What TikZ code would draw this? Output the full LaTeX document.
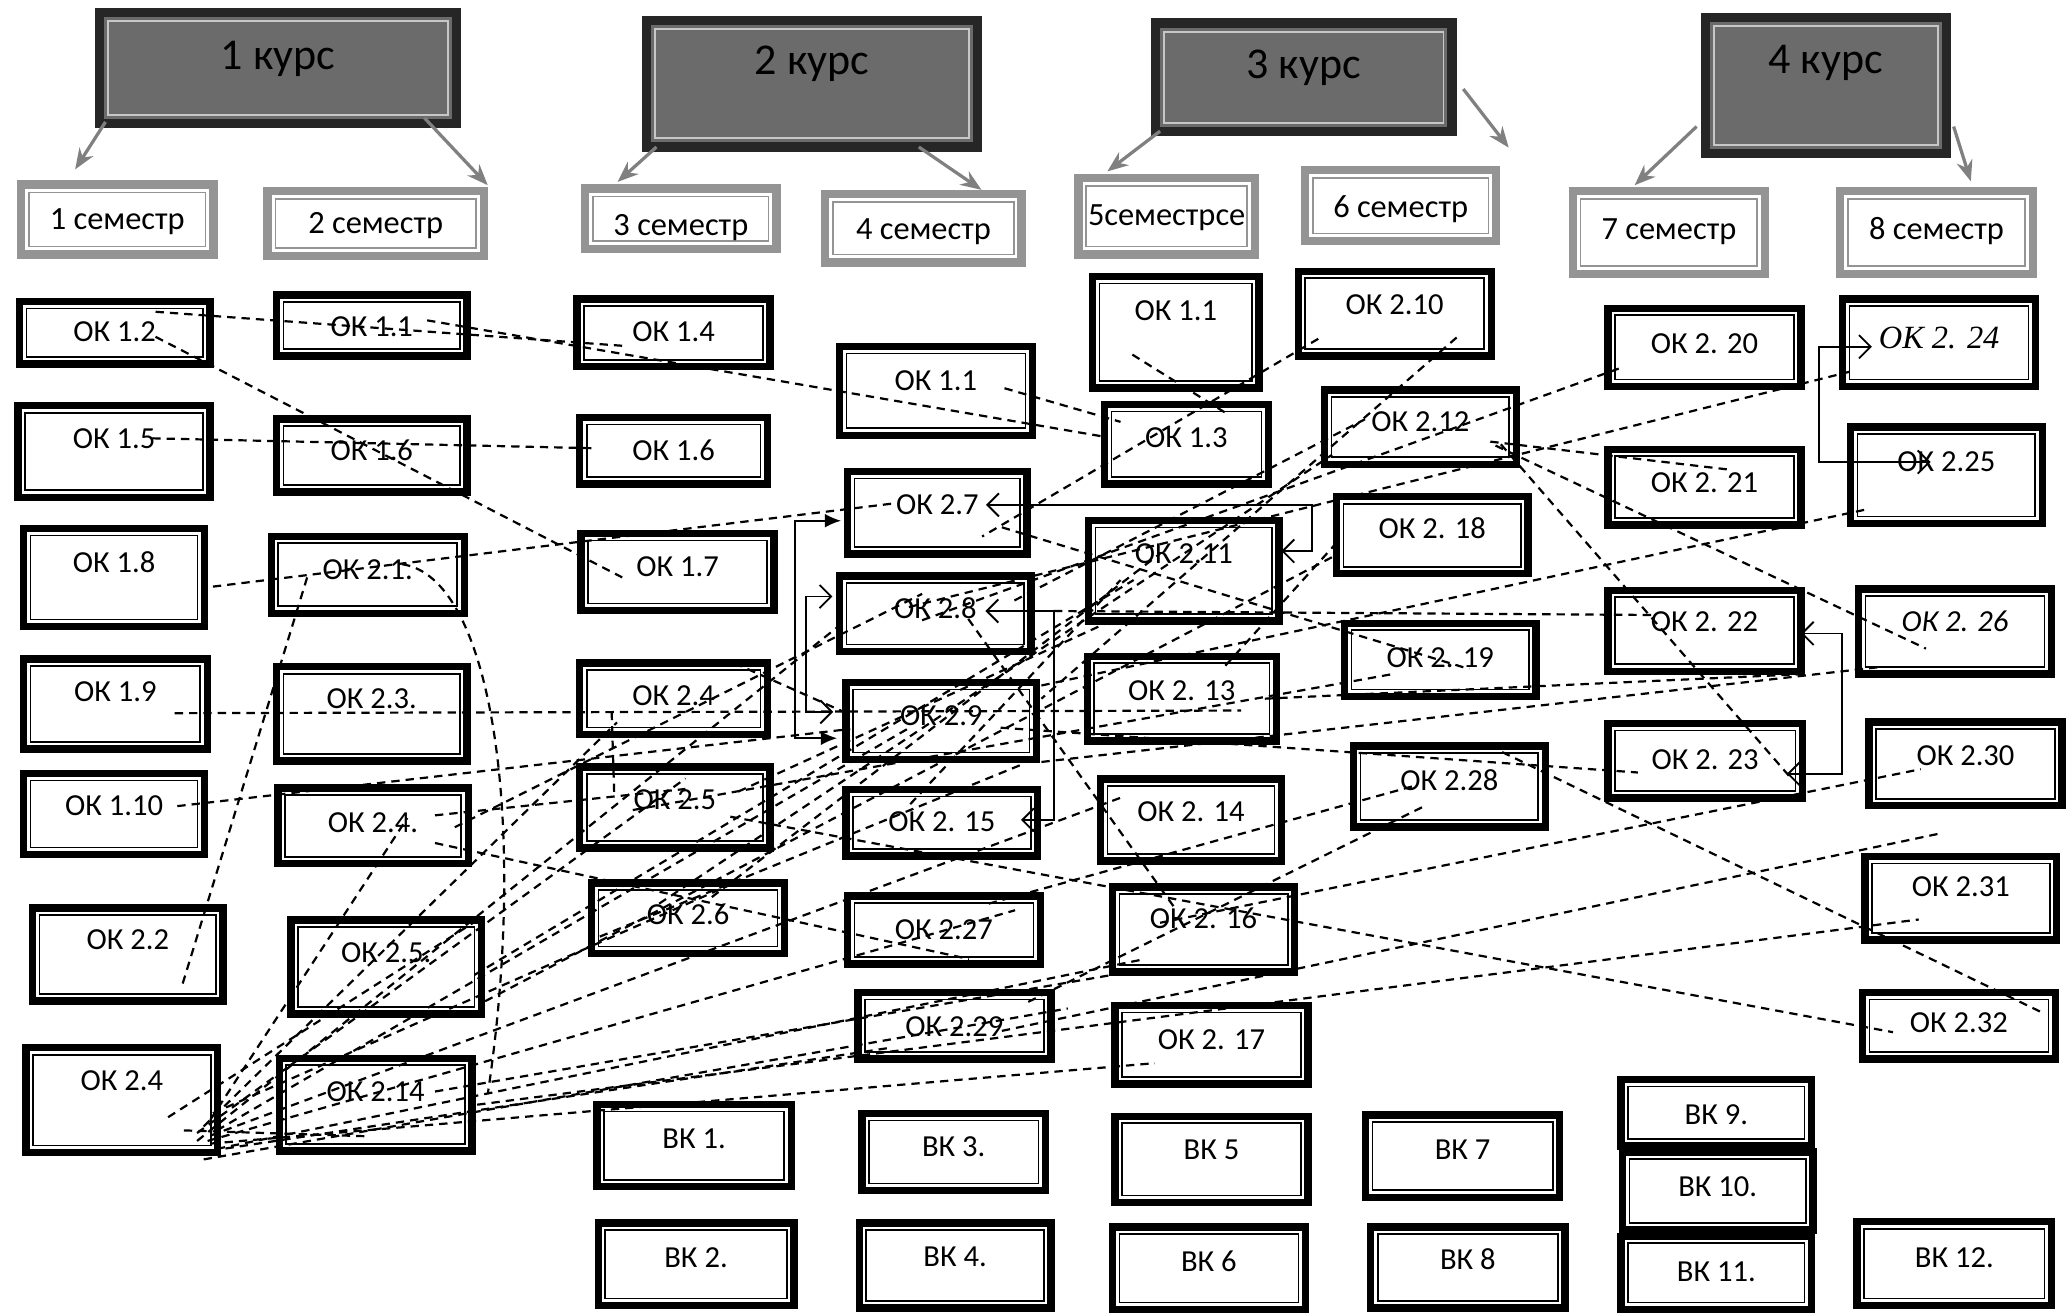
\documentclass[tikz,border=0pt]{standalone}
\usepackage{fontspec}
\setmainfont{Carlito}
\newfontfamily\serifit{Liberation Serif}
\usetikzlibrary{arrows.meta,fit}

\definecolor{kursfill}{gray}{0.42}
\definecolor{kursedge}{gray}{0.15}
\definecolor{kursinner}{gray}{0.78}
\definecolor{semedge}{gray}{0.58}
\definecolor{kursarrow}{gray}{0.5}

\tikzset{
  innerline/.style 2 args={path picture={\draw[#1] ([shift={(#2,#2)}]path picture bounding box.north west) rectangle ([shift={(-#2,-#2)}]path picture bounding box.south east);}},
  kursbox/.style={draw=kursedge, fill=kursfill, line width=4pt, inner sep=0pt, innerline={kursinner, line width=0.8pt}{6.5}},
  sembox/.style={draw=semedge, fill=white, line width=3.6pt, inner sep=0pt, innerline={semedge, line width=0.7pt}{6}},
  okbox/.style={draw=black, fill=white, line width=3.2pt, inner sep=0pt, innerline={black, line width=0.7pt}{5.3}},
  kurst/.style={font=\fontsize{19}{22}\selectfont, inner sep=0pt, anchor=base, yshift=-6.1pt},
  semt/.style={font=\fontsize{14}{16}\selectfont, inner sep=0pt, anchor=base, yshift=-4.5pt},
  okt/.style={font=\fontsize{13.2}{15}\selectfont, inner sep=0pt, anchor=base, yshift=-4.2pt},
  dep/.style={line width=0.95pt, dash pattern=on 3.6pt off 2.6pt},
  link/.style={line width=0.8pt},
  barbs/.style={link, >={Straight Barb[length=5pt,width=10pt]}, <->},
  tris/.style={link, >={Latex[length=7pt,width=6pt]}, <->},
  kursarr/.style={draw=kursarrow, line width=1.4pt, -{Stealth[length=9pt,width=7pt]}}
}

\begin{document}
\begin{tikzpicture}[x=0.02cm, y=-0.02cm]
\useasboundingbox (0,0) rectangle (1568,998);

% courses
\foreach \nm/\xa/\ya/\xb/\yb/\ty/\txt in {
  kurs1/72/6/350/97/42/1 курс,
  kurs2/487/12/745/115/46/2 курс,
  kurs3/873/14/1105/103/49/3 курс,
  kurs4/1290/10/1480/120/45/4 курс}
{
  \node[kursbox, fit={(\xa+3.5,\ya+3.5) (\xb-3.5,\yb-3.5)}] (\nm) {};
  \node[kurst] (\nm-t) at ({(\xa+\xb)/2},\ty) {\txt};
}

% semesters
\foreach \nm/\xa/\ya/\xb/\yb/\ty/\txt in {
  sem1/13/137/165/196/166/1 семестр,
  sem2/200/142/370/197/169/2 семестр,
  sem3/441/140/592/192/171/3 семестр,
  sem4/623/144/778/202/174/4 семестр,
  sem5/815/132/955/196/163/5семестрсе,
  sem6/987/126/1138/186/157/6 семестр,
  sem7/1190/142/1342/211/174/7 семестр,
  sem8/1393/142/1545/211/174/8 семестр}
{
  \node[sembox, fit={(\xa+3,\ya+3) (\xb-3,\yb-3)}] (\nm) {};
  \node[semt] (\nm-t) at ({(\xa+\xb)/2},\ty) {\txt};
}

% disciplines
\foreach \nm/\xa/\ya/\xb/\yb/\ty/\txt in {
  a12/12/226/162/279/252/ОК 1.2,
  a15/11/305/162/380/333/ОК 1.5,
  a18/15/398/158/478/427/ОК 1.8,
  a19/15/497/160/571/525/ОК 1.9,
  a110/15/584/158/651/611/ОК 1.10,
  a22/22/686/172/762/713/ОК 2.2,
  a24/17/792/168/877/820/ОК 2.4,
  b11/207/221/357/273/248/ОК 1.1,
  b16/207/315/357/376/342/ОК 1.6,
  b21/203/404/355/468/432/ОК 2.1.,
  b23/207/503/357/580/530/ОК 2.3.,
  b24/208/595/358/658/624/ОК 2.4.,
  b25/218/695/368/772/723/ОК 2.5.,
  b214/209/800/361/876/828/ОК 2.14,
  c14/435/224/587/281/252/ОК 1.4,
  c16/437/314/585/370/342/ОК 1.6,
  c17/438/402/590/466/430/ОК 1.7,
  c24/437/500/585/560/528/ОК 2.4,
  c25/437/579/587/646/607/ОК 2.5,
  c26/446/667/598/726/694/ОК 2.6,
  vk1/450/835/603/903/864/ВК 1.,
  vk2/451/925/605/993/954/ВК 2.,
  d11/634/260/786/333/289/ОК 1.1,
  d27/640/355/782/423/383/ОК 2.7,
  d28/634/434/785/497/462/ОК 2.8,
  d29/639/515/789/579/543/ОК 2.9,
  d215/639/596/790/652/623/ОК 2. 15,
  d227/640/677/792/734/705/ОК 2.27,
  d229/648/750/800/806/779/ОК 2.29,
  vk3/651/842/796/906/870/ВК 3.,
  vk4/649/925/800/995/953/ВК 4.,
  e11/826/207/958/297/236/ОК 1.1,
  e13/835/304/965/370/332/ОК 1.3,
  e211/823/392/973/474/420/ОК 2.11,
  e213/822/495/971/565/524/ОК 2. 13,
  e214/832/588/975/656/616/ОК 2. 14,
  e216/841/670/985/740/697/ОК 2. 16,
  e217/843/760/995/825/789/ОК 2. 17,
  vk5/843/844/995/915/872/ВК 5,
  vk6/841/928/993/996/957/ВК 6,
  f210/982/203/1134/273/231/ОК 2.10,
  f212/1002/293/1153/355/320/ОК 2.12,
  f218/1011/374/1162/438/401/ОК 2. 18,
  f219/1017/470/1168/531/499/ОК 2. 19,
  f228/1024/563/1175/630/592/ОК 2.28,
  vk7/1033/843/1186/911/872/ВК 7,
  vk8/1037/928/1190/995/956/ВК 8,
  g220/1217/231/1369/296/261/ОК 2. 20,
  g221/1217/338/1369/401/366/ОК 2. 21,
  g222/1217/445/1369/512/472/ОК 2. 22,
  g223/1217/546/1370/608/576/ОК 2. 23,
  vk9/1227/816/1377/872/846/ВК 9.,
  vk10/1228/871/1378/936/900/ВК 10.,
  vk11/1227/935/1377/996/965/ВК 11.,
  h224/1395/224/1547/296/257/{\serifit\itshape\fontsize{14}{16}\selectfont ОК 2. 24},
  h225/1401/321/1552/400/350/ОК 2.25,
  h226/1407/444/1559/514/472/{\itshape ОК 2. 26},
  h230/1415/545/1567/614/573/ОК 2.30,
  h231/1412/647/1563/716/673/ОК 2.31,
  h232/1410/750/1562/806/776/ОК 2.32,
  vk12/1406/924/1559/993/954/ВК 12.}
{
  \node[okbox, fit={(\xa+2.8,\ya+2.8) (\xb-2.8,\yb-2.8)}] (\nm) {};
  \node[okt] (\nm-t) at ({(\xa+\xb)/2},\ty) {\txt};
}

% course -> semester
\foreach \src/\sx/\sy/\dst/\dx/\dy in {
  kurs1/-131/41/sem1/-32/-38, kurs1/111/38/sem2/85/-29,
  kurs2/-118/48/sem3/-48/-28, kurs2/81/48/sem4/44/-29,
  kurs3/-109/41/sem5/-45/-34, kurs3/121/9/sem6/82/-44,
  kurs4/-98/31/sem7/-26/-36, kurs4/97/31/sem8/26/-39}
  \draw[kursarr] ([shift={(\sx,\sy)}]\src.center) -- ([shift={(\dx,\dy)}]\dst.center);

% links between disciplines
\foreach \src/\sx/\sy/\dst/\dx/\dy in {
  a12/31/-16/c14/-36/10, b11/42/-4/e13/-64/-6, a12/31/3/c17/-42/4,
  a15/29/-10/c16/-61/-2, a18/75/7/d27/-34/-7, b21/-46/2/a22/41/24,
  a19/45/7/e213/45/9, a110/48/-6/d29/-69/6, d11/52/-2/e13/-50/-17,
  c24/-47/10/c25/-46/-8, e11/-33/17/e13/31/-23, f210/-58/19/d27/34/18,
  f210/47/18/d29/76/-17, f212/53/11/g221/21/-13, f212/57/14/h226/-22/13,
  f212/61/13/g223/64/12, d28/-10/5/g220/-62/15, d28/-20/-5/h224/-68/22,
  d29/76/-27/h225/-61/26, d29/45/5/g223/-51/9, f228/40/-26/h232/65/-9,
  c25/42/7/h232/-50/5, d229/36/4/h231/-17/-49, b214/77/0/h231/-32/16,
  d27/49/11/f219/22/7, d28/90/-2/g222/-40/-12, d29/76/31/h226/-57/27,
  e213/63/0/g222/72/33, e216/-33/-5/h230/-34/4, d28/25/4/e216/-21/-15,
  d227/34/-20/f228/-28/0, d229/56/-18/f228/-19/15, c25/-32/2/f219/-37/11,
  c26/-22/-11/f212/-67/21, c26/18/-16/e211/-18/-13, d215/-24/-14/e211/-48/7,
  c24/46/-27/d29/-74/-7, c25/48/-12/e211/-53/37, c26/-67/14/d29/61/33,
  d28/60/-10/f212/-42/-6, e213/33/-25/f218/-71/4, b25/75/26/f218/-71/14,
  b25/67/6/e211/-38/7, b24/47/-8/c25/8/-14, b24/47/13/d227/19/22,
  b24/62/1/d28/-10/-15, b214/45/-10/e216/-43/30,
  a24/67/15/b24/26/-6, a24/62/20/c24/-43/18, a24/57/25/c25/8/-22,
  a24/57/31/d28/-69/6, a24/69/10/c26/38/-28, a24/72/23/d29/-24/5,
  a24/67/27/e214/-53/-17, a24/65/31/d227/54/-15, a24/57/40/d229/-50/17,
  a24/67/33/e217/-43/14, a24/72/37/e216/-47/23, a24/47/23/b214/-5/24,
  a24/35/13/b25/73/-38, a24/62/45/d229/86/-13}
  \draw[dep] ([shift={(\sx,\sy)}]\src.center) -- ([shift={(\dx,\dy)}]\dst.center);

\draw[dep] ([shift={(26,-8)}]b21.center) .. controls +(70,10) and +(30,-200) .. ([shift={(85,-8)}]b214.center);

% brackets
\draw[barbs] ([shift={(37,-6)}]d27.center) -- ++(247,0) |- ([shift={(74,-15)}]e211.center);
\draw[barbs] ([shift={(38,-2)}]d28.center) -- ++(52,0) |- ([shift={(60,-2)}]d215.center);
\draw[tris] ([shift={(-73,6)}]d27.center) -- ++(-35,0) |- ([shift={(-79,13)}]d29.center);
\draw[barbs] ([shift={(-78,-13)}]d28.center) -- ++(-20,0) |- ([shift={(-82,-7)}]d29.center);
\draw[barbs] ([shift={(-51,3)}]h224.center) -- ++(-40,0) |- ([shift={(-12,-10)}]h225.center);
\draw[barbs] ([shift={(73,2)}]g222.center) -- ++(31,0) |- ([shift={(62,10)}]g223.center);
\end{tikzpicture}
\end{document}
